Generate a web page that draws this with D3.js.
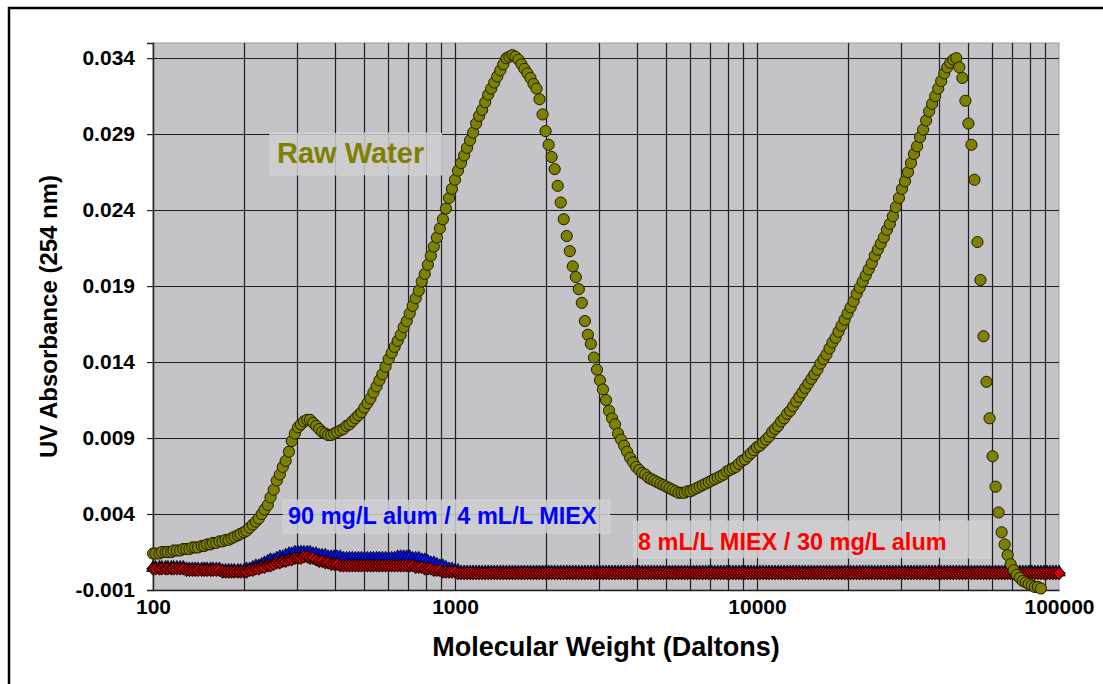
<!DOCTYPE html>
<html>
<head>
<meta charset="utf-8">
<script src="https://cdn.jsdelivr.net/npm/d3@7"></script>
<style>
  body { margin: 0; background: #fff; }
  text { font-family: Arial, "Liberation Sans", sans-serif; }
</style>
</head>
<body>
<svg width="1103" height="684"></svg>
<script>
// Raw water: molecular weight (Daltons) and UV absorbance at 254 nm
var rawMW = [
  100,102,105,107,110,112,115,117,120,123, 126,129,132,135,138,141,145,148,151,155,
  158,162,166,170,174,178,182,186,191,195, 200,204,209,214,219,224,229,234,240,245,
  251,257,263,269,275,282,288,295,302,309, 316,324,331,339,347,355,363,372,380,389,
  398,407,417,427,437,447,457,468,479,490, 501,513,525,537,550,562,575,589,603,617,
  631,646,661,676,692,708,724,741,759,776, 794,813,832,851,871,891,912,933,955,977,
  1000,1023,1047,1072,1096,1122,1148,1175,1202,1230, 1259,1288,1318,1349,1380,1413,1445,1479,1514,1549,
  1585,1622,1660,1698,1738,1778,1820,1862,1905,1950, 1995,2042,2089,2138,2188,2239,2291,2344,2399,2455,
  2512,2570,2630,2692,2754,2818,2884,2951,3020,3090, 3162,3236,3311,3388,3467,3548,3631,3715,3802,3890,
  3981,4074,4169,4266,4365,4467,4571,4677,4786,4898, 5012,5129,5248,5370,5495,5623,5754,5888,6026,6166,
  6310,6457,6607,6761,6918,7079,7244,7413,7586,7762, 7943,8128,8318,8511,8710,8913,9120,9333,9550,9772,
  10000,10230,10470,10720,10960,11220,11480,11750,12020,12300, 12590,12880,13180,13490,13800,14130,14450,14790,15140,15490,
  15850,16220,16600,16980,17380,17780,18200,18620,19050,19500, 19950,20420,20890,21380,21880,22390,22910,23440,23990,24550,
  25120,25700,26300,26920,27540,28180,28840,29510,30200,30900, 31620,32360,33110,33880,34670,35480,36310,37150,38020,38900,
  39810,40740,41690,42660,43650,44670,45710,46770,47860,48980, 50120,51290,52480,53700,54950,56230,57540,58880,60260,61660,
  63100,64570,66070,67610,69180,70790,72440,74130,75860,77620, 79430,81280,83180,85110,87100
];
var rawAbs = [
  0.0014,0.0014,0.0014,0.0015,0.0015,0.0015,0.0015,0.0016,0.0016,0.0016,
  0.0017,0.0017,0.0017,0.0018,0.0018,0.0018,0.0019,0.0019,0.0020,0.0020,
  0.0021,0.0021,0.0022,0.0022,0.0023,0.0023,0.0024,0.0025,0.0026,0.0027,
  0.0028,0.0029,0.0031,0.0033,0.0035,0.0037,0.0040,0.0043,0.0046,0.0051,
  0.0056,0.0062,0.0066,0.0071,0.0075,0.0081,0.0088,0.0093,0.0097,0.0099,
  0.0101,0.0102,0.0102,0.0100,0.0098,0.0096,0.0094,0.0093,0.0092,0.0092,
  0.0093,0.0094,0.0095,0.0096,0.0098,0.0099,0.0101,0.0103,0.0105,0.0107,
  0.0110,0.0113,0.0116,0.0120,0.0124,0.0128,0.0132,0.0137,0.0142,0.0146,
  0.0150,0.0154,0.0158,0.0163,0.0167,0.0172,0.0177,0.0182,0.0187,0.0193,
  0.0198,0.0204,0.0210,0.0216,0.0222,0.0228,0.0234,0.0241,0.0248,0.0254,
  0.0260,0.0266,0.0271,0.0276,0.0281,0.0286,0.0291,0.0297,0.0302,0.0306,
  0.0311,0.0316,0.0320,0.0324,0.0328,0.0332,0.0336,0.0340,0.0341,0.0342,
  0.0341,0.0339,0.0336,0.0333,0.0330,0.0327,0.0323,0.0320,0.0313,0.0303,
  0.0292,0.0283,0.0275,0.0267,0.0256,0.0245,0.0234,0.0223,0.0213,0.0203,
  0.0196,0.0188,0.0179,0.0167,0.0158,0.0152,0.0143,0.0135,0.0128,0.0122,
  0.0115,0.0108,0.0103,0.0099,0.0093,0.0089,0.0085,0.0081,0.0077,0.0074,
  0.0071,0.0069,0.0067,0.0066,0.0064,0.0063,0.0062,0.0061,0.0060,0.0059,
  0.0058,0.0057,0.0056,0.0055,0.0054,0.0054,0.0054,0.0055,0.0055,0.0056,
  0.0057,0.0058,0.0059,0.0060,0.0061,0.0062,0.0063,0.0064,0.0065,0.0066,
  0.0068,0.0069,0.0070,0.0071,0.0073,0.0075,0.0076,0.0078,0.0080,0.0082,
  0.0084,0.0085,0.0087,0.0089,0.0091,0.0094,0.0096,0.0098,0.0101,0.0103,
  0.0106,0.0108,0.0111,0.0114,0.0117,0.0120,0.0123,0.0126,0.0129,0.0132,
  0.0135,0.0139,0.0142,0.0145,0.0149,0.0153,0.0156,0.0160,0.0164,0.0168,
  0.0172,0.0176,0.0180,0.0185,0.0189,0.0193,0.0197,0.0201,0.0205,0.0210,
  0.0214,0.0218,0.0222,0.0227,0.0231,0.0236,0.0242,0.0248,0.0254,0.0259,
  0.0265,0.0271,0.0277,0.0282,0.0288,0.0293,0.0299,0.0305,0.0310,0.0315,
  0.0320,0.0325,0.0330,0.0334,0.0337,0.0339,0.0340,0.0334,0.0327,0.0312,
  0.0297,0.0283,0.0260,0.0219,0.0194,0.0157,0.0127,0.0103,0.0078,0.0058,
  0.0041,0.0028,0.0020,0.0013,0.0007,0.0003,0.0000,-0.0002,-0.0004,-0.0005,
  -0.0006,-0.0007,-0.0008,-0.0008,-0.0009
];

// treated waters share one MW grid (to 100000)
var treatedMW = [
  100,102,105,107,110,112,115,117,120,123, 126,129,132,135,138,141,145,148,151,155,
  158,162,166,170,174,178,182,186,191,195, 200,204,209,214,219,224,229,234,240,245,
  251,257,263,269,275,282,288,295,302,309, 316,324,331,339,347,355,363,372,380,389,
  398,407,417,427,437,447,457,468,479,490, 501,513,525,537,550,562,575,589,603,617,
  631,646,661,676,692,708,724,741,759,776, 794,813,832,851,871,891,912,933,955,977,
  1000,1023,1047,1072,1096,1122,1148,1175,1202,1230, 1259,1288,1318,1349,1380,1413,1445,1479,1514,1549,
  1585,1622,1660,1698,1738,1778,1820,1862,1905,1950, 1995,2042,2089,2138,2188,2239,2291,2344,2399,2455,
  2512,2570,2630,2692,2754,2818,2884,2951,3020,3090, 3162,3236,3311,3388,3467,3548,3631,3715,3802,3890,
  3981,4074,4169,4266,4365,4467,4571,4677,4786,4898, 5012,5129,5248,5370,5495,5623,5754,5888,6026,6166,
  6310,6457,6607,6761,6918,7079,7244,7413,7586,7762, 7943,8128,8318,8511,8710,8913,9120,9333,9550,9772,
  10000,10230,10470,10720,10960,11220,11480,11750,12020,12300, 12590,12880,13180,13490,13800,14130,14450,14790,15140,15490,
  15850,16220,16600,16980,17380,17780,18200,18620,19050,19500, 19950,20420,20890,21380,21880,22390,22910,23440,23990,24550,
  25120,25700,26300,26920,27540,28180,28840,29510,30200,30900, 31620,32360,33110,33880,34670,35480,36310,37150,38020,38900,
  39810,40740,41690,42660,43650,44670,45710,46770,47860,48980, 50120,51290,52480,53700,54950,56230,57540,58880,60260,61660,
  63100,64570,66070,67610,69180,70790,72440,74130,75860,77620, 79430,81280,83180,85110,87100,89130,91200,93330,95500,97720,
  100000
];
// 90 mg/L alum / 4 mL/L MIEX (blue)
var alumMiexAbs = [
  0.0004,0.0004,0.0004,0.0004,0.0004,0.0004,0.0004,0.0004,0.0004,0.0004,
  0.0004,0.0003,0.0003,0.0003,0.0003,0.0003,0.0003,0.0003,0.0003,0.0003,
  0.0003,0.0003,0.0003,0.0002,0.0002,0.0002,0.0002,0.0002,0.0002,0.0002,
  0.0002,0.0003,0.0003,0.0004,0.0005,0.0005,0.0006,0.0007,0.0008,0.0009,
  0.0009,0.0010,0.0011,0.0011,0.0012,0.0013,0.0013,0.0014,0.0014,0.0014,
  0.0014,0.0014,0.0014,0.0013,0.0013,0.0012,0.0012,0.0012,0.0011,0.0011,
  0.0011,0.0011,0.0011,0.0010,0.0010,0.0010,0.0010,0.0010,0.0010,0.0010,
  0.0010,0.0010,0.0010,0.0010,0.0010,0.0010,0.0010,0.0010,0.0010,0.0010,
  0.0010,0.0011,0.0011,0.0011,0.0011,0.0011,0.0010,0.0010,0.0010,0.0009,
  0.0009,0.0008,0.0007,0.0007,0.0006,0.0005,0.0005,0.0004,0.0003,0.0003,
  0.0002,0.0002,0.0001,0.0001,0.0001,0.0001,0.0001,0.0001,0.0001,0.0001,
  0.0001,0.0001,0.0001,0.0001,0.0001,0.0001,0.0001,0.0001,0.0001,0.0001,
  0.0001,0.0001,0.0001,0.0001,0.0001,0.0001,0.0001,0.0001,0.0001,0.0001,
  0.0001,0.0001,0.0001,0.0001,0.0001,0.0001,0.0001,0.0001,0.0001,0.0001,
  0.0001,0.0001,0.0001,0.0001,0.0001,0.0001,0.0001,0.0001,0.0001,0.0001,
  0.0001,0.0001,0.0001,0.0001,0.0001,0.0001,0.0001,0.0001,0.0001,0.0001,
  0.0001,0.0001,0.0001,0.0001,0.0001,0.0001,0.0001,0.0001,0.0001,0.0001,
  0.0001,0.0001,0.0001,0.0001,0.0001,0.0001,0.0001,0.0001,0.0001,0.0001,
  0.0001,0.0001,0.0001,0.0001,0.0001,0.0001,0.0001,0.0001,0.0001,0.0001,
  0.0001,0.0001,0.0001,0.0001,0.0001,0.0001,0.0001,0.0001,0.0001,0.0001,
  0.0001,0.0001,0.0001,0.0001,0.0001,0.0001,0.0001,0.0001,0.0001,0.0001,
  0.0001,0.0001,0.0001,0.0001,0.0001,0.0001,0.0001,0.0001,0.0001,0.0001,
  0.0001,0.0001,0.0001,0.0001,0.0001,0.0001,0.0001,0.0001,0.0001,0.0001,
  0.0001,0.0001,0.0001,0.0001,0.0001,0.0001,0.0001,0.0001,0.0001,0.0001,
  0.0001,0.0001,0.0001,0.0001,0.0001,0.0001,0.0001,0.0001,0.0001,0.0001,
  0.0001,0.0001,0.0001,0.0001,0.0001,0.0001,0.0001,0.0001,0.0001,0.0001,
  0.0001,0.0001,0.0001,0.0001,0.0001,0.0001,0.0001,0.0001,0.0001,0.0001,
  0.0001,0.0001,0.0001,0.0001,0.0001,0.0001,0.0001,0.0001,0.0001,0.0001,
  0.0001,0.0001,0.0001,0.0001,0.0001,0.0001,0.0001,0.0001,0.0001,0.0001,
  0.0001,0.0001,0.0001,0.0001,0.0001,0.0001,0.0001,0.0001,0.0001,0.0001,
  0.0001
];
// 8 mL/L MIEX / 30 mg/L alum (red)
var miexAlumAbs = [
  0.0004,0.0004,0.0004,0.0004,0.0004,0.0004,0.0004,0.0004,0.0004,0.0004,
  0.0004,0.0003,0.0003,0.0003,0.0003,0.0003,0.0003,0.0003,0.0003,0.0003,
  0.0003,0.0003,0.0003,0.0002,0.0002,0.0002,0.0002,0.0002,0.0002,0.0002,
  0.0002,0.0002,0.0003,0.0003,0.0004,0.0004,0.0005,0.0005,0.0006,0.0006,
  0.0007,0.0008,0.0008,0.0009,0.0009,0.0010,0.0010,0.0011,0.0011,0.0011,
  0.0012,0.0012,0.0011,0.0011,0.0010,0.0009,0.0009,0.0008,0.0008,0.0007,
  0.0007,0.0007,0.0006,0.0006,0.0006,0.0006,0.0006,0.0006,0.0006,0.0006,
  0.0006,0.0006,0.0006,0.0006,0.0006,0.0006,0.0006,0.0006,0.0006,0.0006,
  0.0006,0.0006,0.0006,0.0006,0.0006,0.0006,0.0006,0.0005,0.0005,0.0005,
  0.0004,0.0004,0.0004,0.0003,0.0003,0.0003,0.0002,0.0002,0.0002,0.0002,
  0.0002,0.0001,0.0001,0.0001,0.0001,0.0001,0.0001,0.0001,0.0001,0.0001,
  0.0001,0.0001,0.0001,0.0001,0.0001,0.0001,0.0001,0.0001,0.0001,0.0001,
  0.0001,0.0001,0.0001,0.0001,0.0001,0.0001,0.0001,0.0001,0.0001,0.0001,
  0.0001,0.0001,0.0001,0.0001,0.0001,0.0001,0.0001,0.0001,0.0001,0.0001,
  0.0001,0.0001,0.0001,0.0001,0.0001,0.0001,0.0001,0.0001,0.0001,0.0001,
  0.0001,0.0001,0.0001,0.0001,0.0001,0.0001,0.0001,0.0001,0.0001,0.0001,
  0.0001,0.0001,0.0001,0.0001,0.0001,0.0001,0.0001,0.0001,0.0001,0.0001,
  0.0001,0.0001,0.0001,0.0001,0.0001,0.0001,0.0001,0.0001,0.0001,0.0001,
  0.0001,0.0001,0.0001,0.0001,0.0001,0.0001,0.0001,0.0001,0.0001,0.0001,
  0.0001,0.0001,0.0001,0.0001,0.0001,0.0001,0.0001,0.0001,0.0001,0.0001,
  0.0001,0.0001,0.0001,0.0001,0.0001,0.0001,0.0001,0.0001,0.0001,0.0001,
  0.0001,0.0001,0.0001,0.0001,0.0001,0.0001,0.0001,0.0001,0.0001,0.0001,
  0.0001,0.0001,0.0001,0.0001,0.0001,0.0001,0.0001,0.0001,0.0001,0.0001,
  0.0001,0.0001,0.0001,0.0001,0.0001,0.0001,0.0001,0.0001,0.0001,0.0001,
  0.0001,0.0001,0.0001,0.0001,0.0001,0.0001,0.0001,0.0001,0.0001,0.0001,
  0.0001,0.0001,0.0001,0.0001,0.0001,0.0001,0.0001,0.0001,0.0001,0.0001,
  0.0001,0.0001,0.0001,0.0001,0.0001,0.0001,0.0001,0.0001,0.0001,0.0001,
  0.0001,0.0001,0.0001,0.0001,0.0001,0.0001,0.0001,0.0001,0.0001,0.0001,
  0.0001,0.0001,0.0001,0.0001,0.0001,0.0001,0.0001,0.0001,0.0001,0.0001,
  0.0001,0.0001,0.0001,0.0001,0.0001,0.0001,0.0001,0.0001,0.0001,0.0001,
  0.0001
];

var yTicks = [-0.001, 0.004, 0.009, 0.014, 0.019, 0.024, 0.029, 0.034];
var xTicks = [100, 1000, 10000, 100000];

var svg = d3.select("svg");
var plotL = 153, plotR = 1059, plotT = 43, plotB = 590;

var x = d3.scaleLog().domain([100, 100000]).range([plotL, plotR]);
var y = d3.scaleLinear().domain([-0.001, 0.035]).range([plotB, plotT]);

// page frame
svg.append("path")
  .attr("d", "M9,690V8H1110")
  .attr("fill", "none")
  .attr("stroke", "#000")
  .attr("stroke-width", 2.5);

// plot area
svg.append("rect")
  .attr("x", plotL).attr("y", plotT)
  .attr("width", plotR - plotL).attr("height", plotB - plotT)
  .attr("fill", "#c4c3c7")
  .attr("stroke", "#9c9c9c");

var grid = svg.append("g").attr("stroke", "#1e1e1e").attr("stroke-width", 1.2);
grid.selectAll(".vg")
  .data(x.ticks().filter(function(d) { return d > 100 && d < 100000; }))
  .enter().append("line")
  .attr("x1", function(d) { return Math.round(x(d)) + 0.5; })
  .attr("x2", function(d) { return Math.round(x(d)) + 0.5; })
  .attr("y1", plotT).attr("y2", plotB);
grid.selectAll(".hg")
  .data(yTicks.slice(1))
  .enter().append("line")
  .attr("x1", plotL).attr("x2", plotR)
  .attr("y1", function(d) { return Math.round(y(d)) + 0.5; })
  .attr("y2", function(d) { return Math.round(y(d)) + 0.5; });

// axes
var fmt3 = d3.format(".3f");
var yAxis = svg.append("g")
  .attr("transform", "translate(" + plotL + ",0)")
  .call(d3.axisLeft(y).tickValues(yTicks).tickSize(6).tickPadding(12)
    .tickFormat(function(d) { return fmt3(d).replace("\u2212", "-"); }));
var xAxis = svg.append("g")
  .attr("transform", "translate(0," + plotB + ")")
  .call(d3.axisBottom(x).tickValues(xTicks).tickSize(0).tickPadding(9).tickFormat(d3.format("d")));

[yAxis, xAxis].forEach(function(a) {
  a.select(".domain").attr("stroke", "#222").attr("stroke-width", 1.5);
  a.selectAll(".tick line").attr("stroke", "#222").attr("stroke-width", 1.2);
  a.selectAll("text")
    .attr("font-family", "Arial, 'Liberation Sans', sans-serif")
    .attr("font-size", 21)
    .attr("font-weight", "bold")
    .attr("fill", "#000");
});

svg.append("text")
  .attr("x", (plotL + plotR) / 2).attr("y", 656)
  .attr("text-anchor", "middle")
  .attr("font-size", 27).attr("font-weight", "bold")
  .text("Molecular Weight (Daltons)");

svg.append("text")
  .attr("transform", "translate(57," + (plotT + plotB) / 2 + ") rotate(-90)")
  .attr("text-anchor", "middle")
  .attr("font-size", 24).attr("font-weight", "bold")
  .text("UV Absorbance (254 nm)");

// series
var blue = treatedMW.map(function(d, i) { return [d, alumMiexAbs[i]]; });
var red = treatedMW.map(function(d, i) { return [d, miexAlumAbs[i]]; });
var raw = rawMW.map(function(d, i) { return [d, rawAbs[i]]; });

svg.append("g").selectAll("path")
  .data(blue).enter().append("path")
  .attr("d", d3.symbol().type(d3.symbolTriangle).size(70))
  .attr("transform", function(d) { return "translate(" + x(d[0]) + "," + (y(d[1]) - 1) + ")"; })
  .attr("fill", "#0010ee").attr("stroke", "#000").attr("stroke-width", 0.8);

svg.append("g").selectAll("path")
  .data(red).enter().append("path")
  .attr("d", d3.symbol().type(d3.symbolSquare).size(76))
  .attr("transform", function(d) { return "translate(" + x(d[0]) + "," + y(d[1]) + ") rotate(45)"; })
  .attr("fill", "#d00000").attr("stroke", "#150000").attr("stroke-width", 1);

svg.append("g").selectAll("path")
  .data(raw).enter().append("path")
  .attr("d", d3.symbol().type(d3.symbolCircle).size(98))
  .attr("transform", function(d) { return "translate(" + x(d[0]) + "," + y(d[1]) + ")"; })
  .attr("fill", "#808000").attr("stroke", "#1a1a00").attr("stroke-width", 1);

// labels with light boxes
var labels = [
  { text: "Raw Water", color: "#808000", size: 29, bx: 270, by: 133, bw: 172, bh: 42, tx: 277, ty: 163 },
  { text: "90 mg/L alum / 4 mL/L MIEX", color: "#0000ff", size: 23.5, bx: 283, by: 500, bw: 327, bh: 33, tx: 288, ty: 524 },
  { text: "8 mL/L MIEX / 30 mg/L alum", color: "#ff0000", size: 23.5, bx: 634, by: 521, bw: 356, bh: 37, tx: 638, ty: 550 }
];
var lab = svg.append("g").selectAll("g").data(labels).enter().append("g");
lab.append("rect")
  .attr("x", function(d) { return d.bx; }).attr("y", function(d) { return d.by; })
  .attr("width", function(d) { return d.bw; }).attr("height", function(d) { return d.bh; })
  .attr("fill", "#cfcfd1").attr("fill-opacity", 0.85)
  .attr("stroke", "#e2e2e2").attr("stroke-dasharray", "1,1");
lab.append("text")
  .attr("x", function(d) { return d.tx; }).attr("y", function(d) { return d.ty; })
  .attr("font-size", function(d) { return d.size; })
  .attr("font-weight", "bold")
  .attr("fill", function(d) { return d.color; })
  .text(function(d) { return d.text; });
</script>
</body>
</html>
